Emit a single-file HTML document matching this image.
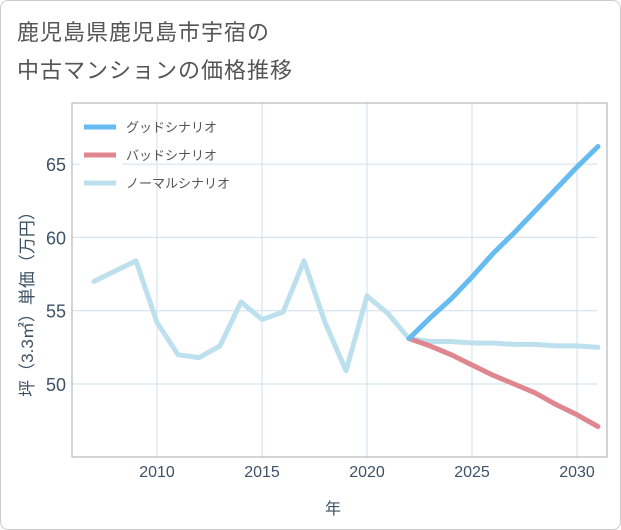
<!DOCTYPE html>
<html><head><meta charset="utf-8"><style>
body{margin:0;background:#fff;}
#wrap{position:relative;width:619px;height:528px;border:1px solid #ccc;border-radius:8px;overflow:hidden;background:#fff;font-family:"Liberation Sans","Noto Sans CJK JP",sans-serif;}
.title{position:absolute;left:16px;font-size:22px;color:#555;letter-spacing:1px;}
</style></head><body>
<div id="wrap">
<div class="title" style="top:14px">鹿児島県鹿児島市宇宿の</div>
<div class="title" style="top:52px">中古マンションの価格推移</div>
<svg id="chart" width="621" height="530" style="position:absolute;left:-1px;top:-1px"></svg>
</div>
<script>
const years=[2007,2008,2009,2010,2011,2012,2013,2014,2015,2016,2017,2018,2019,2020,2021,2022,2023,2024,2025,2026,2027,2028,2029,2030,2031];
const normalVals=[57.0,57.7,58.4,54.2,52.0,51.8,52.6,55.6,54.4,54.9,58.4,54.2,50.9,56.0,54.8,53.1,52.9,52.9,52.8,52.8,52.7,52.7,52.6,52.6,52.5];
const goodYears=[2022,2023,2024,2025,2026,2027,2028,2029,2030,2031];
const goodVals=[53.1,54.5,55.8,57.3,58.9,60.3,61.8,63.3,64.8,66.2];
const badVals=[53.1,52.6,52.0,51.3,50.6,50.0,49.4,48.6,47.9,47.1];
const xTicks=[2010,2015,2020,2025,2030];
const yTicks=[50,55,60,65];
const NS="http://www.w3.org/2000/svg";
const svg=document.getElementById('chart');
const L=72,R=597,T=103,B=457;
const x=v=>157+(v-2010)*21;
const y=v=>384-(v-50)*(73.3/5);
function mk(tag,attrs){const e=document.createElementNS(NS,tag);for(const k in attrs)e.setAttribute(k,attrs[k]);svg.appendChild(e);return e;}
xTicks.forEach(t=>{
 const g=mk('line',{x1:x(t),x2:x(t),y1:T,y2:B,stroke:'#cfdfea','stroke-width':1});
 
 
 const tx=mk('text',{x:x(t),y:477,'text-anchor':'middle','font-size':16,fill:'#3d5266','font-family':'Liberation Sans, sans-serif'});
 tx.textContent=t;
 
 
});
yTicks.forEach(t=>{
 const g=mk('line',{x1:L,x2:R,y1:y(t),y2:y(t),stroke:'#cfdfea','stroke-width':1});
 
 
 const tx=mk('text',{x:66,y:y(t)+7,'text-anchor':'end','font-size':18,fill:'#3d5266','font-family':'Liberation Sans, sans-serif'});
 tx.textContent=t;
 
 
});
const fr=mk('rect',{x:L,y:T,width:R-L+10,height:B-T,fill:'none',stroke:'#aaa','stroke-width':1});


const xt=mk('text',{x:333,y:514,'text-anchor':'middle','font-size':16,fill:'#3d5266','font-family':'Liberation Sans, Noto Sans CJK JP, sans-serif'});
xt.textContent='年';


const yt=mk('text',{x:0,y:0,transform:'translate(33,300) rotate(-90)','text-anchor':'middle','font-size':17,fill:'#3d5266','font-family':'Liberation Sans, Noto Sans CJK JP, sans-serif'});
yt.textContent='坪（3.3㎡）単価（万円）';


const lb=mk('rect',{x:80,y:112,width:42,height:84,fill:'#fff'});


function line(xs,vs,color,name){
 const p=mk('polyline',{points:xs.map((yr,i)=>x(yr)+','+y(vs[i])).join(' '),fill:'none',stroke:color,'stroke-width':5,'stroke-linejoin':'round','stroke-linecap':'round'});
 
 
}
line(years,normalVals,'#bde0ee','normal-scenario-line');
line(goodYears,badVals,'#e0868e','bad-scenario-line');
line(goodYears,goodVals,'#66bbf0','good-scenario-line');
const leg=[['グッドシナリオ','#66bbf0',127],['バッドシナリオ','#e0868e',155],['ノーマルシナリオ','#bde0ee',183]];
leg.forEach((l,i)=>{
 const s=mk('line',{x1:84,x2:116,y1:l[2],y2:l[2],stroke:l[1],'stroke-width':5});
 
 
 const t=mk('text',{x:126,y:l[2]+5,'font-size':13,fill:'#555','font-family':'Liberation Sans, Noto Sans CJK JP, sans-serif'});
 t.textContent=l[0];
 
 
});
</script>
</body></html>
